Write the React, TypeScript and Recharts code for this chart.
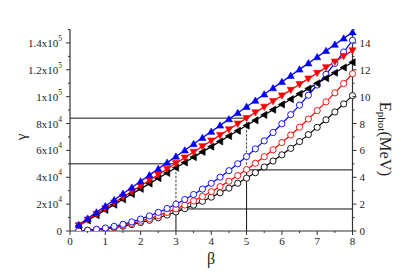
import React from "react";
import { LineChart, Line, XAxis, YAxis, ReferenceLine } from "recharts";

const betaValues = [0.25, 0.5, 0.75, 1, 1.25, 1.5, 1.75, 2, 2.25, 2.5, 2.75, 3, 3.25, 3.5, 3.75, 4, 4.25, 4.5, 4.75, 5, 5.25, 5.5, 5.75, 6, 6.25, 6.5, 6.75, 7, 7.25, 7.5, 7.75, 8];

const gammaBlue = [4600, 9300, 13900, 18500, 23100, 27800, 32400, 37000, 41600, 46300, 50900, 55500, 60100, 64800, 69400, 74000, 78600, 83300, 87900, 92500, 97100, 101800, 106400, 111000, 115600, 120300, 124900, 129500, 134100, 138800, 143400, 148000];
const gammaRed = [4200, 8400, 12600, 16800, 21000, 25200, 29400, 33600, 37800, 42000, 46200, 50400, 54600, 58800, 63000, 67200, 71400, 75600, 79800, 84000, 88200, 92400, 96600, 100800, 105000, 109200, 113400, 117600, 121800, 126000, 130200, 134400];
const gammaBlack = [3900, 7900, 11800, 15700, 19600, 23600, 27500, 31400, 35300, 39300, 43200, 47100, 51000, 55000, 58900, 62800, 66700, 70700, 74600, 78500, 82400, 86400, 90300, 94200, 98100, 102100, 106000, 109900, 113800, 117800, 121700, 125600];

const ephotBlue = [0.014, 0.055, 0.125, 0.222, 0.347, 0.499, 0.679, 0.887, 1.123, 1.386, 1.677, 1.996, 2.343, 2.717, 3.119, 3.549, 4.006, 4.491, 5.004, 5.545, 6.113, 6.709, 7.333, 7.985, 8.664, 9.371, 10.106, 10.868, 11.658, 12.476, 13.322, 14.195];
const ephotRed = [0.011, 0.046, 0.103, 0.183, 0.286, 0.412, 0.56, 0.732, 0.926, 1.143, 1.383, 1.646, 1.932, 2.241, 2.572, 2.926, 3.304, 3.704, 4.127, 4.573, 5.041, 5.533, 6.047, 6.584, 7.145, 7.728, 8.333, 8.962, 9.614, 10.288, 10.985, 11.706];
const ephotBlack = [0.01, 0.039, 0.089, 0.158, 0.246, 0.354, 0.482, 0.63, 0.797, 0.984, 1.191, 1.418, 1.664, 1.929, 2.215, 2.52, 2.845, 3.189, 3.554, 3.938, 4.341, 4.764, 5.207, 5.67, 6.152, 6.654, 7.176, 7.718, 8.279, 8.859, 9.46, 10.08];

const xTicks = [0, 0.5, 1, 1.5, 2, 2.5, 3, 3.5, 4, 4.5, 5, 5.5, 6, 6.5, 7, 7.5, 8];
const topTicks = [0, 1, 2, 3, 4, 5, 6, 7, 8];
const leftTicks = [0, 10000, 20000, 30000, 40000, 50000, 60000, 70000, 80000, 90000, 100000, 110000, 120000, 130000, 140000, 150000];
const rightTicks = [0, 1, 2, 3, 4, 5, 6, 7, 8, 9, 10, 11, 12, 13, 14, 15];

// guide lines: beta, gamma (left axis) and photon energy (right axis)
const guideA = { beta: 3, gamma: 50000, ephot: 1.64 };
const guideB = { beta: 5, gamma: 84000, ephot: 4.55 };

const data = betaValues.map((b, i) => ({
  beta: b,
  gB: gammaBlue[i],
  gR: gammaRed[i],
  gK: gammaBlack[i],
  eB: ephotBlue[i],
  eR: ephotRed[i],
  eK: ephotBlack[i],
}));

const FONT = "'Liberation Serif', 'Times New Roman', serif";
const AXIS = "#333";
const TXT = "#222";
const tstyle = { fontFamily: FONT };

const leftLabel = (v: number) => {
  if (v === 0) return { base: "0", sup: "" };
  if (v >= 100000) {
    const m = v / 100000;
    return { base: `${m === 1 ? "1" : m.toFixed(1)}x10`, sup: "5" };
  }
  return { base: `${v / 10000}x10`, sup: "4" };
};

const LeftTick = (props: any) => {
  const { x, y, payload } = props;
  const v = payload.value;
  const major = v % 20000 === 0;
  const ax = x + 8;
  const lab = leftLabel(v);
  return (
    <g>
      <line x1={ax} x2={ax - (major ? 4 : 2)} y1={y} y2={y} stroke={AXIS} strokeWidth={1} />
      {major && (
        <text x={x} y={y} textAnchor="end" dominantBaseline="central" style={tstyle} fontSize={11} fill={TXT}>
          <tspan>{lab.base}</tspan>
          {lab.sup && (
            <tspan dy={-5} fontSize={7.5}>
              {lab.sup}
            </tspan>
          )}
        </text>
      )}
    </g>
  );
};

const RightTick = (props: any) => {
  const { x, y, payload } = props;
  const v = payload.value;
  const major = v % 2 === 0;
  const ax = x - 7;
  return (
    <g>
      <line x1={ax} x2={ax + (major ? 4 : 2)} y1={y} y2={y} stroke={AXIS} strokeWidth={1} />
      {major && (
        <text x={x} y={y} textAnchor="start" dominantBaseline="central" style={tstyle} fontSize={11} fill={TXT}>
          {v}
        </text>
      )}
    </g>
  );
};

const BottomTick = (props: any) => {
  const { x, y, payload } = props;
  const v = payload.value;
  const major = Number.isInteger(v);
  const ay = y - 6;
  return (
    <g>
      <line x1={x} x2={x} y1={ay} y2={ay + (major ? 4 : 2)} stroke={AXIS} strokeWidth={1} />
      {major && (
        <text x={x} y={y} dy="0.72em" textAnchor="middle" style={tstyle} fontSize={11} fill={TXT}>
          {v}
        </text>
      )}
    </g>
  );
};

const triangle = (color: string, dir: "up" | "down" | "left") => (props: any) => {
  const { cx, cy, index } = props;
  if (cx == null || cy == null) return <g key={index} />;
  const s = 3.6;
  let d = "";
  if (dir === "up") d = `M${cx},${cy - s} L${cx + s},${cy + s * 0.75} L${cx - s},${cy + s * 0.75} Z`;
  else if (dir === "down") d = `M${cx},${cy + s} L${cx + s},${cy - s * 0.75} L${cx - s},${cy - s * 0.75} Z`;
  else d = `M${cx - s},${cy} L${cx + s * 0.75},${cy - s} L${cx + s * 0.75},${cy + s} Z`;
  return <path key={index} d={d} fill={color} stroke={color} strokeWidth={0.6} />;
};

const circle = (color: string) => (props: any) => {
  const { cx, cy, index } = props;
  if (cx == null || cy == null) return <g key={index} />;
  return <circle key={index} cx={cx} cy={cy} r={3.1} fill="#fff" stroke={color} strokeWidth={0.9} />;
};

export default function App() {
  return (
    <div style={{ position: "relative", width: 400, height: 260 }}>
      <LineChart width={400} height={260} data={data} margin={{ top: 21.5, right: 15.5, bottom: 7, left: 0 }}>
        <XAxis
          dataKey="beta"
          type="number"
          domain={[0, 8]}
          ticks={xTicks}
          interval={0}
          height={30}
          tickSize={4}
          tickMargin={2}
          tickLine={false}
          tick={BottomTick}
          axisLine={{ stroke: AXIS, strokeWidth: 1.2 }}
        />
        <XAxis
          xAxisId="top"
          dataKey="beta"
          type="number"
          orientation="top"
          domain={[0, 8]}
          ticks={topTicks}
          interval={0}
          height={0}
          mirror
          tickSize={3}
          tick={false}
          tickLine={{ stroke: AXIS }}
          axisLine={{ stroke: AXIS, strokeWidth: 1.2 }}
        />
        <YAxis
          yAxisId="L"
          domain={[0, 150000]}
          ticks={leftTicks}
          interval={0}
          width={62}
          tickSize={4}
          tickMargin={4}
          tickLine={false}
          tick={LeftTick}
          axisLine={{ stroke: AXIS, strokeWidth: 1.2 }}
          allowDataOverflow
        />
        <YAxis
          yAxisId="R"
          orientation="right"
          domain={[0, 15]}
          ticks={rightTicks}
          interval={0}
          width={40}
          tickSize={4}
          tickMargin={3}
          tickLine={false}
          tick={RightTick}
          axisLine={{ stroke: AXIS, strokeWidth: 1.2 }}
          allowDataOverflow
        />

        <ReferenceLine yAxisId="L" segment={[{ x: 0, y: guideB.gamma }, { x: guideB.beta, y: guideB.gamma }]} stroke="#111" strokeWidth={1} />
        <ReferenceLine yAxisId="L" segment={[{ x: 0, y: guideA.gamma }, { x: guideA.beta, y: guideA.gamma }]} stroke="#111" strokeWidth={1} />
        <ReferenceLine yAxisId="R" segment={[{ x: guideB.beta, y: guideB.ephot }, { x: 8, y: guideB.ephot }]} stroke="#111" strokeWidth={1} />
        <ReferenceLine yAxisId="R" segment={[{ x: guideA.beta, y: guideA.ephot }, { x: 8, y: guideA.ephot }]} stroke="#111" strokeWidth={1} />
        <ReferenceLine yAxisId="R" segment={[{ x: guideB.beta, y: 0 }, { x: guideB.beta, y: guideB.ephot }]} stroke="#111" strokeWidth={1} />
        <ReferenceLine yAxisId="R" segment={[{ x: guideA.beta, y: 0 }, { x: guideA.beta, y: guideA.ephot }]} stroke="#111" strokeWidth={1} />
        <ReferenceLine yAxisId="R" segment={[{ x: guideB.beta, y: guideB.gamma / 10000 }, { x: guideB.beta, y: guideB.ephot }]} stroke="#111" strokeWidth={0.8} strokeDasharray="2.5 1.5" />
        <ReferenceLine yAxisId="R" segment={[{ x: guideA.beta, y: guideA.gamma / 10000 }, { x: guideA.beta, y: guideA.ephot }]} stroke="#111" strokeWidth={0.8} strokeDasharray="2.5 1.5" />

        <Line yAxisId="R" dataKey="eK" stroke="#000" strokeWidth={1.2} dot={circle("#000")} isAnimationActive={false} />
        <Line yAxisId="R" dataKey="eR" stroke="#ff0000" strokeWidth={1.2} dot={circle("#ff0000")} isAnimationActive={false} />
        <Line yAxisId="R" dataKey="eB" stroke="#0000ff" strokeWidth={1.2} dot={circle("#0000ff")} isAnimationActive={false} />
        <Line yAxisId="L" dataKey="gK" stroke="#000" strokeWidth={1.3} dot={triangle("#000", "left")} isAnimationActive={false} />
        <Line yAxisId="L" dataKey="gR" stroke="#ff0000" strokeWidth={1.3} dot={triangle("#ff0000", "down")} isAnimationActive={false} />
        <Line yAxisId="L" dataKey="gB" stroke="#0000ff" strokeWidth={1.3} dot={triangle("#0000ff", "up")} isAnimationActive={false} />
      </LineChart>
      <svg width={400} height={260} style={{ position: "absolute", left: 0, top: 0, pointerEvents: "none" }}>
        <text x={13} y={129} transform="rotate(-90 13 129)" textAnchor="middle" dominantBaseline="central" style={tstyle} fontSize={15} fill={TXT}>
          γ
        </text>
        <text x={203} y={250} textAnchor="middle" dominantBaseline="central" style={tstyle} fontSize={16} fill={TXT}>
          β
        </text>
        <text x={378} y={131} transform="rotate(90 378 131)" textAnchor="middle" dominantBaseline="central" style={tstyle} fontSize={16.5} fill={TXT}>
          <tspan>E</tspan>
          <tspan dy={4} fontSize={11}>phot</tspan>
          <tspan dy={-4}>(MeV)</tspan>
        </text>
      </svg>
    </div>
  );
}
